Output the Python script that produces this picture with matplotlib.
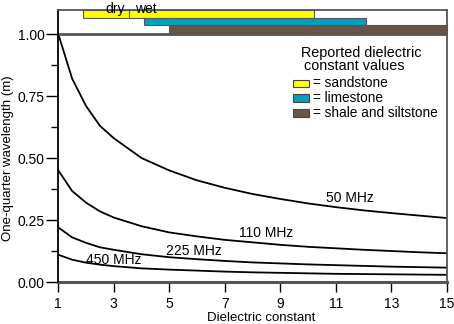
import matplotlib.pyplot as plt
from matplotlib.patches import Rectangle

plt.rcParams['font.family'] = ['Liberation Sans', 'DejaVu Sans']

# dielectric constant samples and quarter wavelengths (m)
eps = [1, 1.5, 2, 2.5, 3, 4, 5, 6, 7, 8, 9, 10, 11, 12, 13, 14, 15]
wl_50 = [1.00, 0.82, 0.71, 0.63, 0.58, 0.50, 0.45, 0.41, 0.38, 0.355, 0.335, 0.317, 0.302, 0.289, 0.278, 0.268, 0.258]
wl_110 = [0.45, 0.367, 0.32, 0.285, 0.26, 0.225, 0.20, 0.184, 0.17, 0.16, 0.15, 0.142, 0.136, 0.13, 0.125, 0.12, 0.116]
wl_225 = [0.22, 0.18, 0.158, 0.14, 0.13, 0.112, 0.10, 0.092, 0.085, 0.079, 0.075, 0.071, 0.068, 0.065, 0.062, 0.060, 0.058]
wl_450 = [0.11, 0.09, 0.078, 0.07, 0.064, 0.055, 0.05, 0.046, 0.042, 0.039, 0.037, 0.035, 0.033, 0.032, 0.031, 0.030, 0.029]
freq_labels = ['50 MHz', '110 MHz', '225 MHz', '450 MHz']
label_pos = [(11.5, 0.337), (8.5, 0.199), (5.9, 0.126), (3.0, 0.089)]

# reported dielectric ranges (start, end)
sand_dry = (1.9, 3.56)
sand_wet = (3.56, 10.2)
limestone = (4.1, 12.1)
shale = (5.0, 15.0)
rock_names = ['sandstone', 'limestone', 'shale and siltstone']
rock_colors = ['#ffff00', '#00a0c0', '#665548']

fig = plt.figure(figsize=(4.54, 3.24), dpi=100)
ax = fig.add_axes([0.1284, 0.1296, 0.8555, 0.8395])
ax.set_xlim(1, 15)
ax.set_ylim(0, 1.097)

for wl in [wl_50, wl_110, wl_225, wl_450]:
    ax.plot(eps, wl, color='black', lw=1.3)
for txt, (x, y) in zip(freq_labels, label_pos):
    ax.text(x, y, txt, ha='center', va='center', fontsize=10)

# range bars above the 1.0 line
bar_rows = [(1.066, 1.097), (1.036, 1.066), (1.005, 1.036)]
for (x0, x1) in [sand_dry, sand_wet]:
    ax.add_patch(Rectangle((x0, bar_rows[0][0]), x1 - x0, bar_rows[0][1] - bar_rows[0][0],
                           facecolor=rock_colors[0], edgecolor='#555555', lw=0.8, clip_on=False))
for (x0, x1), row, c in zip([limestone, shale], bar_rows[1:], rock_colors[1:]):
    ax.add_patch(Rectangle((x0, row[0]), x1 - x0, row[1] - row[0],
                           facecolor=c, edgecolor='#555555', lw=0.8, clip_on=False))
ax.text(3.05, 1.10, 'dry', ha='center', va='center', fontsize=10, clip_on=False)
ax.text(4.15, 1.10, 'wet', ha='center', va='center', fontsize=10, clip_on=False)

ax.axhline(1.0, color='#555555', lw=2)
ax.axhline(0.0, color='#555555', lw=2.2, clip_on=False)

# legend drawn by hand
ax.text(0.626, 0.828, 'Reported dielectric', transform=ax.transAxes,
        ha='left', va='baseline', fontsize=10.4)
ax.text(0.633, 0.779, 'constant values', transform=ax.transAxes,
        ha='left', va='baseline', fontsize=10.4)
for i, (name, c) in enumerate(zip(rock_names, rock_colors)):
    yy = 0.730 - i * 0.0545
    ax.add_patch(Rectangle((0.6035, yy - 0.0145), 0.0427, 0.029, transform=ax.transAxes,
                           facecolor=c, edgecolor='#444444', lw=0.8))
    ax.text(0.6565, yy, '= ' + name, transform=ax.transAxes, ha='left', va='center', fontsize=9.8)

ax.set_xticks(range(1, 16, 2))
ax.set_yticks([0, 0.25, 0.5, 0.75, 1.0])
ax.set_yticklabels(['0.00', '0.25', '0.50', '0.75', '1.00'])
ax.set_yticks([0.125, 0.375, 0.625, 0.875], minor=True)
ax.tick_params(axis='x', length=7, width=1, labelsize=10, direction='out')
ax.tick_params(axis='y', which='major', length=9, width=1, labelsize=10, direction='out', pad=1)
ax.tick_params(axis='y', which='minor', length=5, width=1, direction='out')

ax.spines['left'].set_color('black')
ax.spines['left'].set_linewidth(1.3)
ax.spines['bottom'].set_visible(False)
for s in ['top', 'right']:
    ax.spines[s].set_color('#555555')
    ax.spines[s].set_linewidth(1.3)

ax.set_xlabel('Dielectric constant', fontsize=9.5)
ax.xaxis.set_label_coords(0.522, -0.11)
ax.set_ylabel('One-quarter wavelength (m)', fontsize=9.5)
ax.yaxis.set_label_coords(-0.113, 0.456)

fig.savefig('out.png', dpi=100)
